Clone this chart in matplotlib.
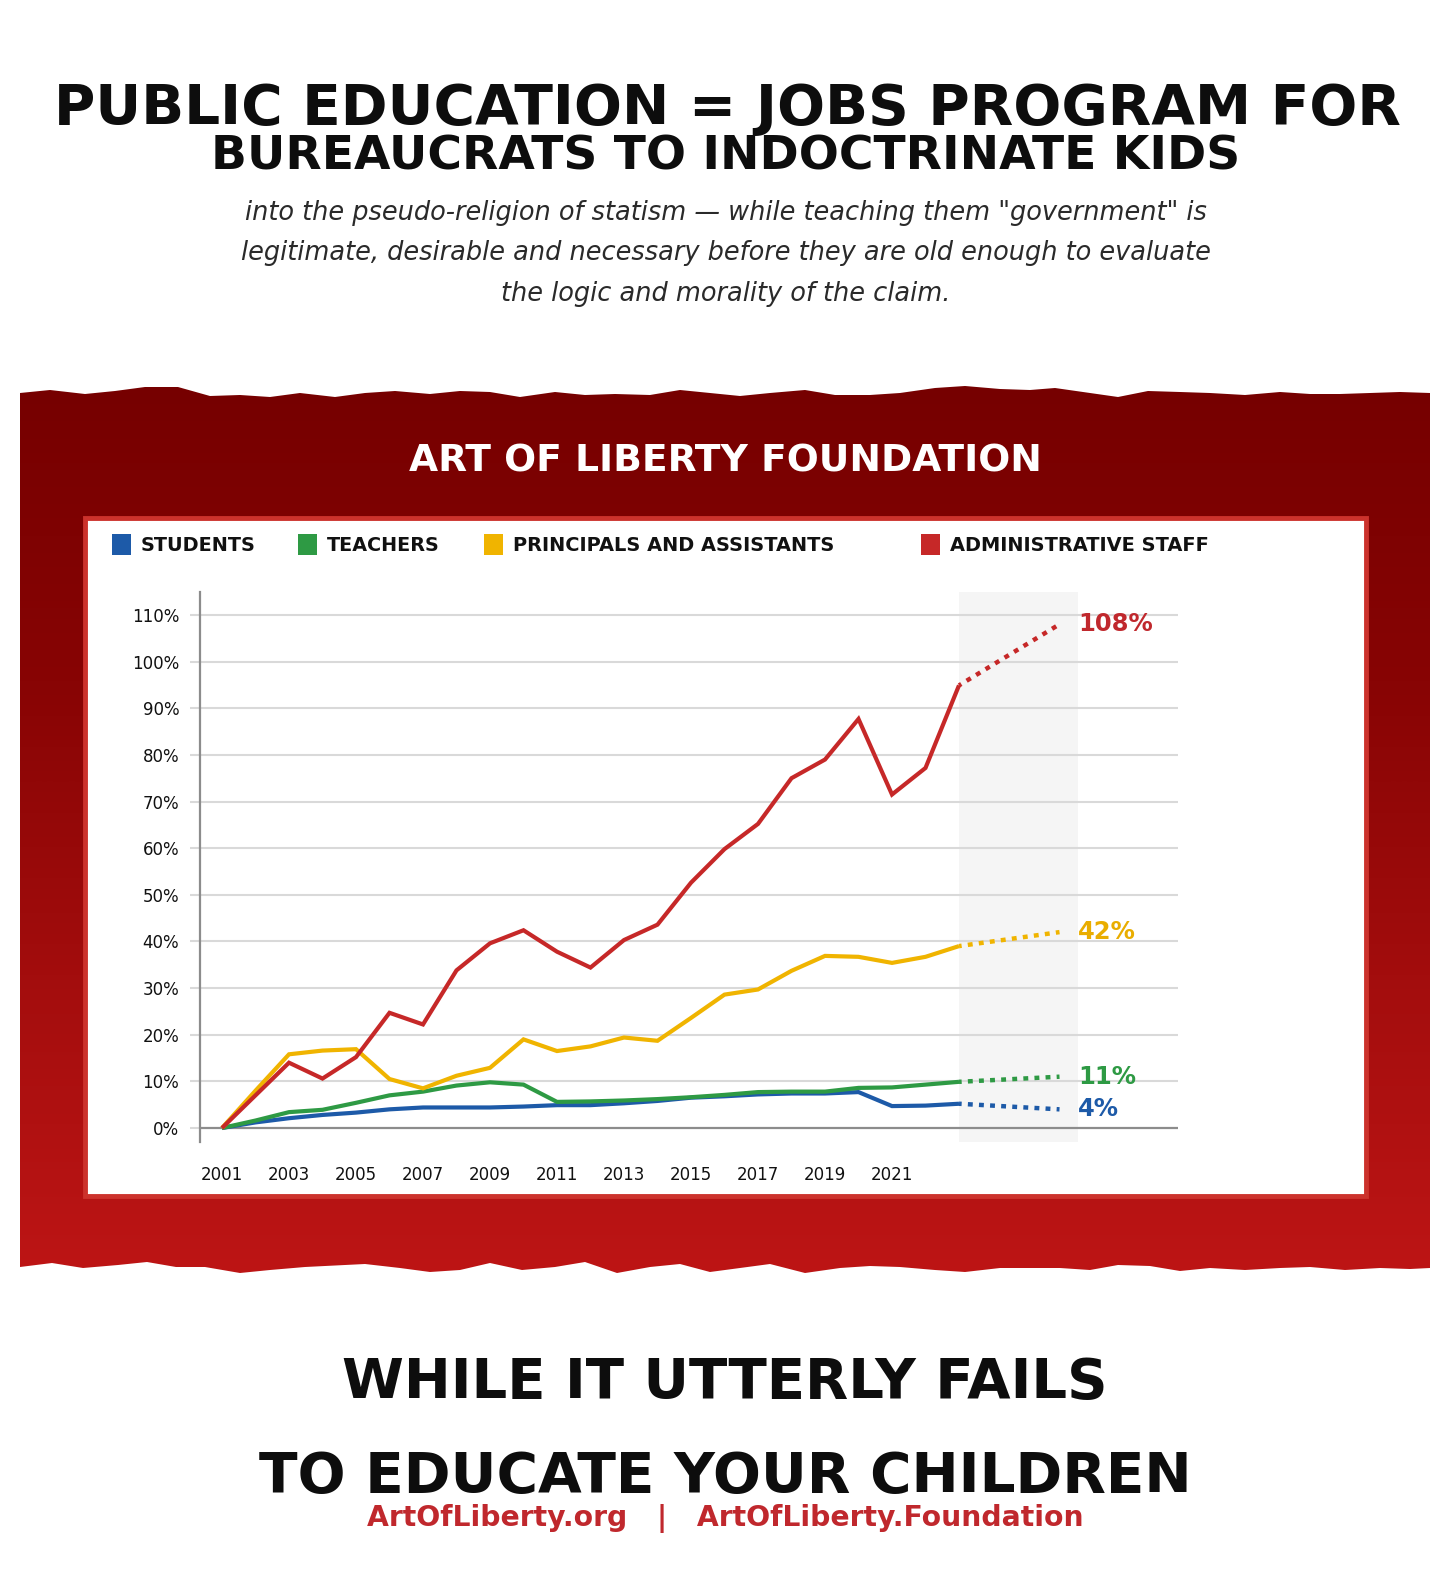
import matplotlib
matplotlib.use("Agg")
import matplotlib.pyplot as plt
import numpy as np
from matplotlib.patches import Rectangle, Polygon
from matplotlib.colors import LinearSegmentedColormap

# ---------------- data ----------------
years = list(range(2001, 2024))
students = [0, 1.2, 2.1, 2.8, 3.3, 4.0, 4.4, 4.4, 4.4, 4.6, 4.9, 4.9, 5.3, 5.8, 6.5, 6.8, 7.2, 7.4, 7.4, 7.7, 4.7, 4.8, 5.2]
teachers = [0, 1.6, 3.4, 3.9, 5.4, 7.0, 7.8, 9.1, 9.8, 9.3, 5.6, 5.7, 5.9, 6.2, 6.6, 7.1, 7.7, 7.8, 7.8, 8.6, 8.7, 9.3, 9.9]
principals = [0, 8.0, 15.8, 16.6, 16.9, 10.5, 8.5, 11.2, 12.9, 19.0, 16.5, 17.5, 19.4, 18.7, 23.6, 28.6, 29.7, 33.7, 36.9, 36.7, 35.4, 36.7, 39.0]
admin = [0, 7.0, 14.0, 10.6, 15.2, 24.7, 22.2, 33.8, 39.6, 42.4, 37.8, 34.4, 40.3, 43.6, 52.6, 59.8, 65.2, 75.0, 79.0, 87.7, 71.5, 77.2, 94.9]
proj_year = 2026
projected = {"students": 4, "teachers": 11, "principals": 42, "admin": 108}
series_names = ["STUDENTS", "TEACHERS", "PRINCIPALS AND ASSISTANTS", "ADMINISTRATIVE STAFF"]
yticks = list(range(0, 111, 10))
xticks = list(range(2001, 2022, 2))

# ---------------- style ----------------
C_BLUE = "#1d5aa8"
C_GREEN = "#2e9a44"
C_YELLOW = "#f0b400"
C_RED = "#c62828"
W, H = 1456, 1573

fig = plt.figure(figsize=(W / 100, H / 100), dpi=100)
fig.patch.set_facecolor("white")
bg = fig.add_axes([0, 0, 1, 1], zorder=0)
bg.set_xlim(0, W)
bg.set_ylim(H, 0)
bg.axis("off")
renderer = fig.canvas.get_renderer()


def fit(x, y, s, width, ha="center", va="baseline", **kw):
    t = bg.text(x, y, s, fontsize=10, ha=ha, va=va, **kw)
    bb = t.get_window_extent(renderer)
    t.set_fontsize(10 * width / bb.width)
    return t


# titles
fit(727, 124, "PUBLIC EDUCATION = JOBS PROGRAM FOR", 1350, fontweight="bold", color="#0d0d0d")
fit(726, 170, "BUREAUCRATS TO INDOCTRINATE KIDS", 1030, fontweight="bold", color="#0d0d0d")
t2 = fit(726, 260, "legitimate, desirable and necessary before they are old enough to evaluate", 966,
         style="italic", color="#2a2a2a")
fs_sub = t2.get_fontsize()
bg.text(726, 220, "into the pseudo-religion of statism \u2014 while teaching them \"government\" is",
        fontsize=fs_sub, style="italic", color="#2a2a2a", ha="center", va="baseline")
bg.text(726, 301, "the logic and morality of the claim.",
        fontsize=fs_sub, style="italic", color="#2a2a2a", ha="center", va="baseline")

# torn red banner
top_edge = [(20, 393), (50, 390), (85, 394), (115, 391), (145, 387), (178, 387), (210, 396), (240, 395),
            (270, 397), (300, 393), (335, 397), (365, 393), (395, 391), (430, 394), (460, 391), (490, 392),
            (520, 397), (555, 392), (585, 395), (615, 394), (650, 395), (680, 390), (710, 393), (740, 396),
            (770, 393), (805, 390), (835, 395), (870, 395), (900, 393), (935, 388), (965, 386), (1000, 389),
            (1030, 390), (1055, 388), (1090, 393), (1118, 397), (1148, 391), (1180, 392), (1210, 393),
            (1245, 395), (1280, 392), (1310, 394), (1340, 394), (1370, 393), (1400, 392), (1430, 393)]
bottom_edge = [(20, 1267), (52, 1263), (83, 1268), (118, 1265), (147, 1262), (176, 1267), (205, 1267),
               (240, 1273), (270, 1270), (305, 1267), (365, 1264), (400, 1268), (430, 1272), (460, 1270),
               (490, 1263), (522, 1270), (555, 1267), (585, 1262), (617, 1273), (650, 1267), (680, 1264),
               (710, 1272), (740, 1268), (770, 1264), (805, 1273), (840, 1268), (870, 1266), (900, 1267),
               (935, 1270), (965, 1272), (1000, 1268), (1030, 1268), (1060, 1268), (1090, 1270), (1118, 1265),
               (1150, 1266), (1180, 1271), (1210, 1268), (1245, 1270), (1280, 1268), (1310, 1267), (1345, 1270),
               (1380, 1268), (1410, 1269), (1430, 1268)]
poly_pts = top_edge + bottom_edge[::-1]
banner = Polygon(poly_pts, closed=True, facecolor="none", edgecolor="none")
bg.add_patch(banner)
cmap = LinearSegmentedColormap.from_list("bn", ["#760000", "#880404", "#a30d0d", "#bd1515"])
grad = np.linspace(0, 1, 256).reshape(-1, 1)
im = bg.imshow(grad, cmap=cmap, aspect="auto", extent=[20, 1430, 1275, 385], origin="upper",
               interpolation="bilinear", zorder=1)
im.set_clip_path(banner)
bg.set_xlim(0, W)
bg.set_ylim(H, 0)

fit(725, 471, "ART OF LIBERTY FOUNDATION", 634, color="white", fontweight="bold", zorder=3)

# white panel
bg.add_patch(Rectangle((85, 518), 1281, 678, facecolor="white", edgecolor="#cc322c", lw=3.5, zorder=2))

# legend
leg_sq_x = [112, 298, 484, 921]
leg_colors = [C_BLUE, C_GREEN, C_YELLOW, C_RED]
leg_widths = [115, 113, 323, 260]
for sx, col, name, lw_ in zip(leg_sq_x, leg_colors, series_names, leg_widths):
    bg.add_patch(Rectangle((sx, 534), 19, 21, facecolor=col, edgecolor="none", zorder=3))
    fit(sx + 29, 551, name, lw_, ha="left", fontweight="bold", color="#111111", zorder=3)

# bottom texts
fit(725, 1398, "WHILE IT UTTERLY FAILS", 770, fontweight="bold", color="#0d0d0d")
fit(725, 1492, "TO EDUCATE YOUR CHILDREN", 936, fontweight="bold", color="#0d0d0d")
fit(725, 1526, "ArtOfLiberty.org   |   ArtOfLiberty.Foundation", 718, fontweight="bold", color="#c0282d")

# ---------------- chart axes ----------------
x0px, x1px, y0px, y1px = 200, 1178, 592, 1142
ax = fig.add_axes([x0px / W, 1 - y1px / H, (x1px - x0px) / W, (y1px - y0px) / H], zorder=5)
ax.patch.set_alpha(0)
px_per_year = 33.5
px_per_pct = 4.664
ax.set_xlim(2001 - (222 - x0px) / px_per_year, 2001 + (x1px - 222) / px_per_year)
ax.set_ylim(-(y1px - 1128) / px_per_pct, (1128 - y0px) / px_per_pct)

for v in yticks[1:]:
    ax.axhline(v, color="#d9d9d9", lw=1.5, zorder=1)
ax.axhline(0, color="#8c8c8c", lw=1.6, zorder=2)
ax.axvspan(2023, 2026.55, color="#f5f5f5", zorder=0, lw=0)

for sp in ["top", "right", "bottom"]:
    ax.spines[sp].set_visible(False)
ax.spines["left"].set_color("#8c8c8c")
ax.spines["left"].set_linewidth(1.6)

ax.set_yticks(yticks)
ax.set_yticklabels([f"{v}%" for v in yticks], fontsize=12, color="#111111")
ax.set_xticks(xticks)
ax.set_xticklabels([str(v) for v in xticks], fontsize=12, color="#111111")
ax.tick_params(axis="y", length=7, width=1.5, color="#d9d9d9", pad=8)
ax.tick_params(axis="x", length=0, pad=17)

series = [(students, projected["students"], C_BLUE, "4%"),
          (teachers, projected["teachers"], C_GREEN, "11%"),
          (principals, projected["principals"], C_YELLOW, "42%"),
          (admin, projected["admin"], C_RED, "108%")]
label_colors = {C_BLUE: "#1d5aa8", C_GREEN: "#2e9a44", C_YELLOW: "#e9ad00", C_RED: "#c0282d"}
for vals, pv, col, lab in series:
    ax.plot(years, vals, color=col, lw=3.0, solid_joinstyle="miter", solid_capstyle="butt", zorder=4)
    ax.plot([years[-1], proj_year], [vals[-1], pv], color=col, lw=3.2, linestyle=(0.5, (1.1, 1.4)),
            dash_capstyle="butt", zorder=4)
    ax.text(2026.55, pv, lab, color=label_colors[col], fontsize=17.5, fontweight="bold",
            ha="left", va="center", zorder=5)

fig.savefig("out.png", dpi=100, facecolor="white")
